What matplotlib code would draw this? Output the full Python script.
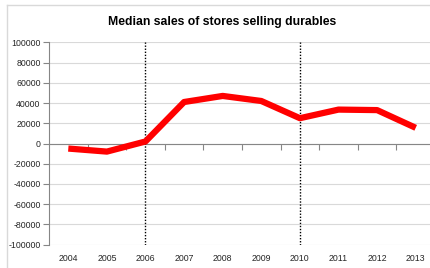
import matplotlib.pyplot as plt
from matplotlib.lines import Line2D
from matplotlib.ticker import FixedLocator, NullFormatter

# data
years = ['2004', '2005', '2006', '2007', '2008', '2009', '2010', '2011', '2012', '2013']
median_sales = [-5000, -8000, 2000, 41000, 47000, 42000, 25000, 33500, 33000, 15500]
marker_years = ['2006', '2010']
yticks = list(range(-100000, 100001, 20000))

plt.rcParams['font.family'] = ['Liberation Sans', 'DejaVu Sans']

fig = plt.figure(figsize=(4.31, 2.68), dpi=100)
W, H = 431, 268

# light chart-area border (only left and top edges are inside the picture)
fig.lines.append(Line2D([7 / W, 7 / W], [0, 1 - 5 / H], transform=fig.transFigure,
                        color='#d9d9d9', linewidth=1.0))
fig.lines.append(Line2D([7 / W, 1], [1 - 5 / H, 1 - 5 / H], transform=fig.transFigure,
                        color='#d9d9d9', linewidth=1.0))

ax = fig.add_axes([49 / W, 23.3 / H, (435 - 49) / W, 202.4 / H])
x = list(range(len(years)))

ax.plot(x, median_sales, color='#ff0000', linewidth=4.5, solid_capstyle='butt', zorder=4)
for yr in marker_years:
    ax.axvline(years.index(yr), color='black', linestyle=(0, (1, 1.2)), linewidth=1.0, zorder=3)

ax.set_xlim(-0.5, len(years) - 0.5)
ax.set_ylim(-100000, 100000)
ax.set_yticks(yticks)
ax.set_yticklabels([str(v) for v in yticks])
ax.grid(axis='y', color='#d9d9d9', linewidth=0.8)
ax.set_axisbelow(True)

for s in ['top', 'right']:
    ax.spines[s].set_visible(False)
ax.spines['left'].set_color('#868686')
ax.spines['left'].set_linewidth(0.8)
# category axis crosses at zero
ax.spines['bottom'].set_position(('data', 0))
ax.spines['bottom'].set_color('#868686')
ax.spines['bottom'].set_linewidth(0.8)
ax.xaxis.set_major_locator(FixedLocator([i + 0.5 for i in x[:-1]]))
ax.xaxis.set_major_formatter(NullFormatter())
ax.tick_params(axis='x', direction='out', length=4, color='#868686', width=0.8)
ax.tick_params(axis='y', direction='out', length=4, color='#868686', width=0.8,
               labelsize=6.3, labelcolor='#262626', pad=2)

# year labels at the bottom of the plot
sec = ax.secondary_xaxis('bottom')
sec.set_xticks(x)
sec.set_xticklabels(years)
sec.tick_params(length=0, labelsize=6.3, labelcolor='#262626', pad=7)
sec.spines['bottom'].set_visible(False)

fig.text(222 / W, 1 - 22 / H, 'Median sales of stores selling durables', ha='center', va='center',
         fontsize=8.8, fontweight='bold', color='#000000')

fig.savefig('out.png', dpi=100)
